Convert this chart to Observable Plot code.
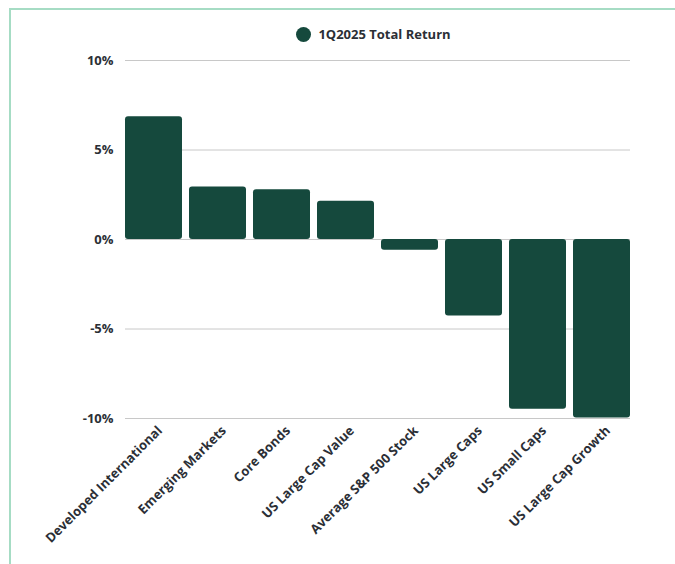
<!DOCTYPE html>
<html>
<head>
<meta charset="utf-8">
<script src="https://cdn.jsdelivr.net/npm/d3@7"></script>
<script src="https://cdn.jsdelivr.net/npm/@observablehq/plot@0.6"></script>
<style>
  html, body { margin: 0; padding: 0; background: #fff; }
  #wrap { position: relative; width: 675px; height: 564px; overflow: hidden; font-family: "Open Sans", Lato, sans-serif; }
  #frame { position: absolute; left: 9px; top: 8px; right: -5px; bottom: -5px; border-top: 2px solid #a6dcc4; border-left: 2px solid #a6dcc4; }
  #legend { position: absolute; left: 121px; width: 505px; top: 25px; display: flex; justify-content: center; align-items: center; gap: 7px; font-weight: 700; font-size: 13px; color: #2b2f36; }
  #legend .dot { width: 15px; height: 15px; border-radius: 50%; background: #15493d; }
  #chart { position: absolute; left: 0; top: 0; }
</style>
</head>
<body>
<div id="wrap">
  <div id="frame"></div>
  <div id="legend"><span class="dot"></span><span id="legendText"></span></div>
  <div id="chart"></div>
</div>
<script>
const seriesName = "1Q2025 Total Return";
const categories = ["Developed International", "Emerging Markets", "Core Bonds", "US Large Cap Value", "Average S&P 500 Stock", "US Large Caps", "US Small Caps", "US Large Cap Growth"];
const returns = [6.86, 2.93, 2.78, 2.14, -0.6, -4.27, -9.48, -9.97];
const yTicks = [-10, -5, 0, 5, 10];

document.getElementById("legendText").textContent = seriesName;

const data = categories.map((c, i) => ({category: c, value: returns[i]}));

const chart = Plot.plot({
  width: 675,
  height: 564,
  marginTop: 60,
  marginBottom: 146,
  marginLeft: 125,
  marginRight: 45,
  style: {fontFamily: "'Open Sans', Lato, sans-serif", fontSize: "13px", fontWeight: 700, color: "#2b2f36", background: "transparent"},
  x: {domain: categories, paddingInner: 0.11, paddingOuter: 0, label: null},
  y: {domain: [-10, 10], label: null},
  marks: [
    Plot.gridY(yTicks, {stroke: "#c8c8c8", strokeOpacity: 1, strokeWidth: 1}),
    Plot.axisY(yTicks, {tickSize: 0, tickPadding: 12, tickFormat: d => d + "%", fontSize: 13, fontWeight: 700}),
    Plot.barY(data, {x: "category", y: "value", fill: "#15493d", rx: 3}),
    Plot.axisX({tickSize: 0, tickRotate: -45, tickPadding: 10, dx: 6, fontSize: 13, fontWeight: 700})
  ]
});
document.getElementById("chart").appendChild(chart);
</script>
</body>
</html>
